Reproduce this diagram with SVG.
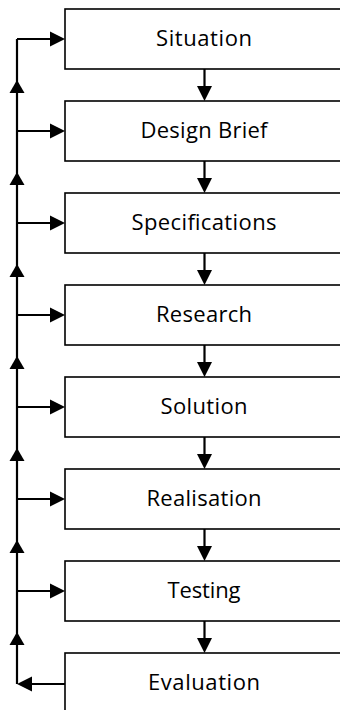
<svg xmlns="http://www.w3.org/2000/svg" width="340" height="710" viewBox="0 0 340 710">
<style>
.box{fill:#fff;stroke:#000;stroke-width:1.6}
.lbl{font-family:"Open Sans","Liberation Sans",sans-serif;font-size:22px;fill:#000;text-anchor:middle}
.ln{stroke:#000;stroke-width:2.2;fill:none}
.ah{fill:#000}
</style>
<defs>
<polygon id="up" points="0,-7 -7.5,6 7.5,6"/>
</defs>
<g id="connectors">
<path class="ln" d="M17,39 V684 M17,39 H52 M17,131 H52 M17,223 H52 M17,315 H52 M17,407 H52 M17,499 H52 M17,591 H52 M30,684 H65"/>
<path class="ln" d="M204.5,69 V88 M204.5,161 V180 M204.5,253 V272 M204.5,345 V364 M204.5,437 V456 M204.5,529 V548 M204.5,621 V640"/>
<g class="ah">
<polygon points="65,39 50,31.5 50,46.5"/>
<polygon points="65,131 50,123.5 50,138.5"/>
<polygon points="65,223 50,215.5 50,230.5"/>
<polygon points="65,315 50,307.5 50,322.5"/>
<polygon points="65,407 50,399.5 50,414.5"/>
<polygon points="65,499 50,491.5 50,506.5"/>
<polygon points="65,591 50,583.5 50,598.5"/>
<polygon points="17,684 32,676.5 32,691.5"/>
<polygon points="204.5,101 197,86 212,86"/>
<polygon points="204.5,193 197,178 212,178"/>
<polygon points="204.5,285 197,270 212,270"/>
<polygon points="204.5,377 197,362 212,362"/>
<polygon points="204.5,469 197,454 212,454"/>
<polygon points="204.5,561 197,546 212,546"/>
<polygon points="204.5,653 197,638 212,638"/>
<use href="#up" x="17" y="87"/>
<use href="#up" x="17" y="179"/>
<use href="#up" x="17" y="271"/>
<use href="#up" x="17" y="363"/>
<use href="#up" x="17" y="455"/>
<use href="#up" x="17" y="547"/>
<use href="#up" x="17" y="639"/>
</g>
</g>
<g id="n1"><rect class="box" x="65" y="9" width="290" height="60"/><text class="lbl" x="204" y="46" textLength="96">Situation</text></g>
<g id="n2"><rect class="box" x="65" y="101" width="290" height="60"/><text class="lbl" x="204" y="138" textLength="127">Design Brief</text></g>
<g id="n3"><rect class="box" x="65" y="193" width="290" height="60"/><text class="lbl" x="204" y="230" textLength="145">Specifications</text></g>
<g id="n4"><rect class="box" x="65" y="285" width="290" height="60"/><text class="lbl" x="204" y="322" textLength="96">Research</text></g>
<g id="n5"><rect class="box" x="65" y="377" width="290" height="60"/><text class="lbl" x="204" y="414" textLength="87">Solution</text></g>
<g id="n6"><rect class="box" x="65" y="469" width="290" height="60"/><text class="lbl" x="204" y="506" textLength="115">Realisation</text></g>
<g id="n7"><rect class="box" x="65" y="561" width="290" height="60"/><text class="lbl" x="204" y="598" textLength="73">Testing</text></g>
<g id="n8"><rect class="box" x="65" y="653" width="290" height="60"/><text class="lbl" x="204" y="690" textLength="112">Evaluation</text></g>
</svg>
